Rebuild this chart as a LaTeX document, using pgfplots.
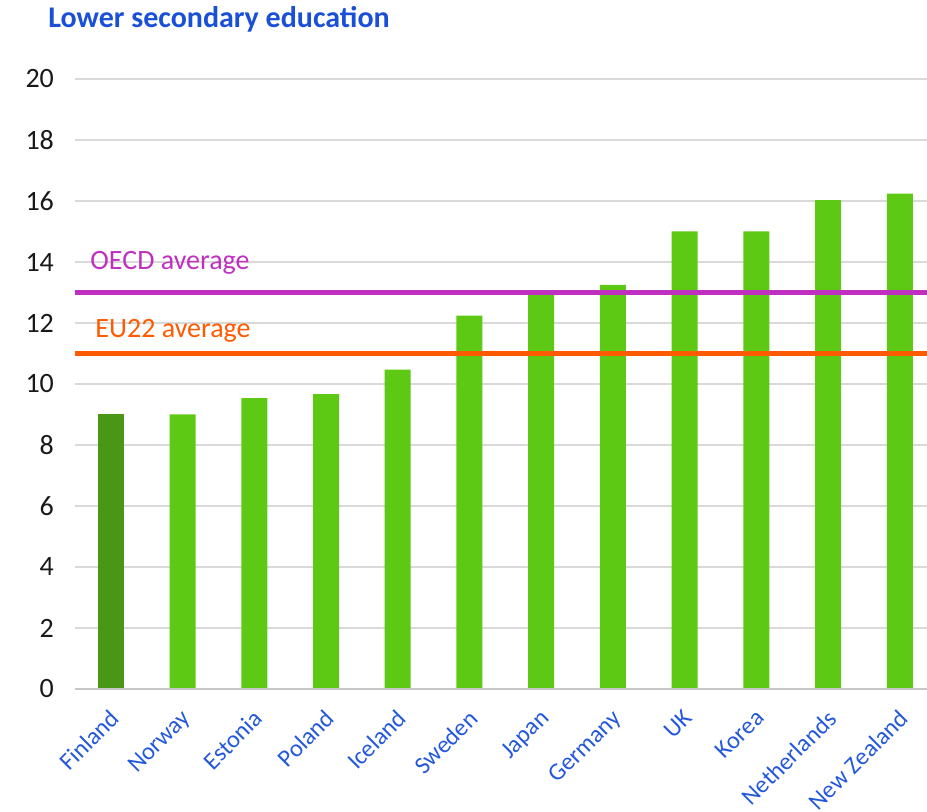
\documentclass[border=0pt]{standalone}
\usepackage{fontspec}
\setmainfont{Carlito}
\usepackage{pgfplots}
\pgfplotsset{compat=1.18}
\definecolor{barg}{HTML}{5DC915}
\definecolor{bard}{HTML}{4A9617}
\definecolor{titleblue}{HTML}{1A4FD8}
\definecolor{lblblue}{HTML}{2458DC}
\definecolor{oecd}{HTML}{C030C0}
\definecolor{eu}{HTML}{FF5A00}
\definecolor{gridc}{HTML}{D9D9D9}
\begin{document}
\begin{tikzpicture}
\path[use as bounding box] (-37.5pt,-61.5pt) rectangle (426pt,344.5pt);
\begin{axis}[
  scale only axis, width=426pt, height=305pt,
  anchor=south west, at={(0,0)},
  xmin=-0.5, xmax=11.38, ymin=0, ymax=20,
  ytick={0,2,...,20},
  xtick={0,...,11},
  xticklabels={Finland,Norway,Estonia,Poland,Iceland,Sweden,Japan,Germany,UK,Korea,Netherlands,New Zealand},
  xticklabel style={xshift=-1pt, yshift=-8pt, rotate=45, anchor=north east, font=\fontsize{12.2}{13}\selectfont, text=lblblue, inner sep=1pt},
  yticklabel style={font=\fontsize{14}{15}\selectfont, text=black!90, xshift=-7pt},
  /pgf/number format/assume math mode=true,
  ymajorgrids, grid style={gridc, line width=0.6pt},
  axis line style={draw=none},
  major tick length=0pt,
  tick style={draw=none},
  clip=false,
]
\addplot[ybar, bar width=13pt, bar shift=0pt, fill=bard, draw=none] coordinates {(0,9)};
\addplot[ybar, bar width=13pt, bar shift=0pt, fill=barg, draw=none] coordinates {
(1,9) (2,9.54) (3,9.67) (4,10.47) (5,12.24) (6,12.98) (7,13.25) (8,15) (9,15) (10,16.03) (11,16.24)};
\addplot[gridc!80!gray, line width=1pt, forget plot] coordinates {(-0.5,0) (11.38,0)};
\addplot[oecd, line width=2.5pt] coordinates {(-0.5,13) (11.38,13)};
\addplot[eu, line width=2.5pt] coordinates {(-0.5,11) (11.38,11)};
\node[anchor=base west, text=oecd, font=\fontsize{14}{15}\selectfont, inner sep=0pt] at (axis cs:-0.29,13.74) {OECD average};
\node[anchor=base west, text=eu, font=\fontsize{14}{15}\selectfont, inner sep=0pt] at (axis cs:-0.22,11.54) {EU22 average};
\node[anchor=base west, text=titleblue, font=\bfseries\fontsize{15}{16}\selectfont, inner sep=0pt] at (-13.5pt,330.5pt) {Lower secondary education};
\end{axis}
\end{tikzpicture}
\end{document}
